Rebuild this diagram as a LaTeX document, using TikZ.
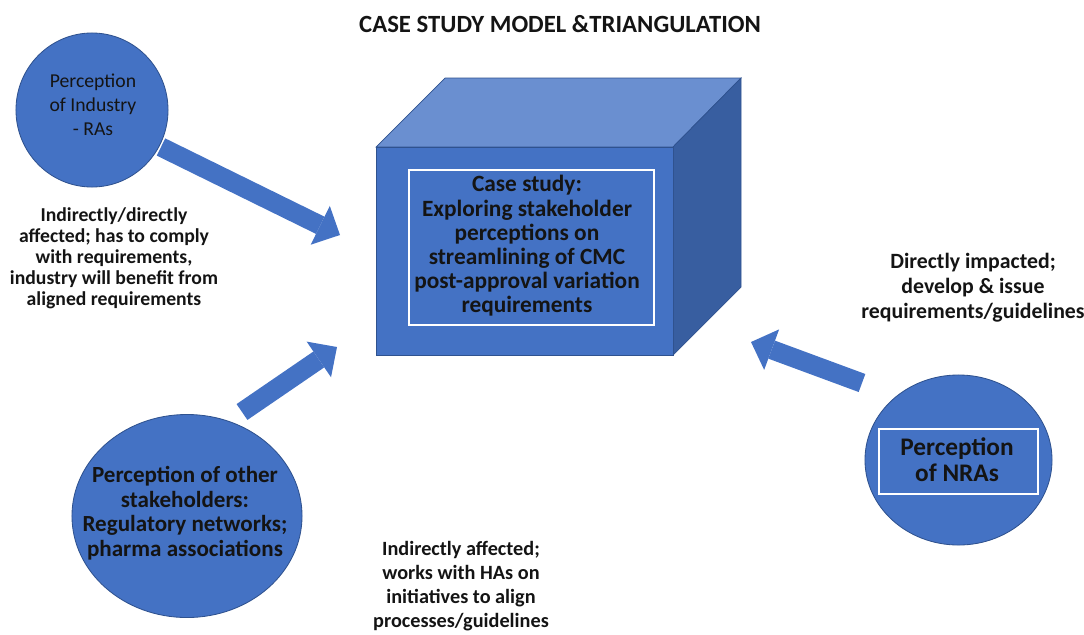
\documentclass[tikz,border=0pt]{standalone}
\usepackage{fontspec}
\setmainfont{Carlito}
\usetikzlibrary{shapes.geometric, arrows.meta, positioning}
\definecolor{facefront}{RGB}{68, 114, 196}
\definecolor{facetop}{RGB}{106, 143, 208}
\definecolor{faceside}{RGB}{56, 94, 160}
\definecolor{edgeblue}{RGB}{47, 82, 143}
\definecolor{inktext}{RGB}{20, 20, 20}
\newcommand{\fsz}[2]{\fontsize{#1}{#2}\selectfont}

\begin{document}
\begin{tikzpicture}[x=0.025cm, y=-0.025cm,
    blob/.style={ellipse, draw=edgeblue, line width=0.6pt, fill=facefront, inner sep=0pt},
    note/.style={align=center, text=inktext},
    flow/.style={line width=0.48cm, draw=facefront, -{Triangle[length=0.55cm, width=1.08cm, line width=0pt]}}]

    \useasboundingbox (0,0) rectangle (1084,634);

    % Title
    \node[note, anchor=base, font=\bfseries\fsz{17.6}{20}] (title) at (560,32) {CASE STUDY MODEL \&TRIANGULATION};

    % Case study box
    \filldraw[fill=facetop, draw=edgeblue, line width=0.5pt] (376,147) -- (445,78) -- (741,78) -- (673,147) -- cycle;
    \filldraw[fill=faceside, draw=edgeblue, line width=0.5pt] (673,147) -- (741,78) -- (741,287) -- (673,355) -- cycle;
    \node[draw=edgeblue, line width=0.5pt, fill=facefront, minimum width=7.425cm, minimum height=5.2cm, inner sep=0pt] (casebox) at (524.5,251) {};
    \node[draw=white, line width=0.8pt, minimum width=6.125cm, minimum height=3.875cm, inner sep=0pt] (caseframe) at (531.5,247.5) {};
    \node[note, font=\bfseries\fsz{16.6}{17.2}] (casetext) at (527,246) {Case study:\\Exploring stakeholder\\perceptions on\\streamlining of CMC\\post-approval variation\\requirements};

    % Industry
    \node[blob, minimum width=3.8cm, minimum height=3.85cm] (industry) at (92,110) {};
    \node[note, font=\fsz{14}{17}] (industrytext) at (93,105) {Perception\\of Industry\\- RAs};
    \node[note, font=\bfseries\fsz{14}{15}] (industrynote) at (114,258) {Indirectly/directly\\affected; has to comply\\with requirements,\\industry will benefit from\\aligned requirements};

    % Other stakeholders
    \node[blob, minimum width=5.75cm, minimum height=5.075cm] (others) at (187,516) {};
    \node[note, font=\bfseries\fsz{16.4}{17.4}] (otherstext) at (185,513) {Perception of other\\stakeholders:\\Regulatory networks;\\pharma associations};
    \node[note, font=\bfseries\fsz{14.4}{17}] (othersnote) at (461,586) {Indirectly affected;\\works with HAs on\\initiatives to align\\processes/guidelines};

    % NRAs
    \node[blob, minimum width=4.675cm, minimum height=4.25cm] (nras) at (958.5,460) {};
    \node[draw=white, line width=0.8pt, minimum width=3.975cm, minimum height=1.625cm, inner sep=0pt] (nrasframe) at (958.5,461.5) {};
    \node[note, font=\bfseries\fsz{18}{18.5}] (nrastext) at (957,460) {Perception\\of NRAs};
    \node[note, font=\bfseries\fsz{15.5}{17.8}] (nrasnote) at (973,288) {Directly impacted;\\develop \& issue\\requirements/guidelines};

    % Arrow ends
    \coordinate (industrytail) at (161,147);
    \coordinate (industrytip) at (340,235);
    \coordinate (otherstail) at (242,412);
    \coordinate (otherstip) at (337,347);
    \coordinate (nrastail) at (862,383);
    \coordinate (nrastip) at (751,342);

    % Arrows
    \draw[flow] (industrytail) -- (industrytip);
    \draw[flow] (otherstail) -- (otherstip);
    \draw[flow] (nrastail) -- (nrastip);
\end{tikzpicture}
\end{document}
